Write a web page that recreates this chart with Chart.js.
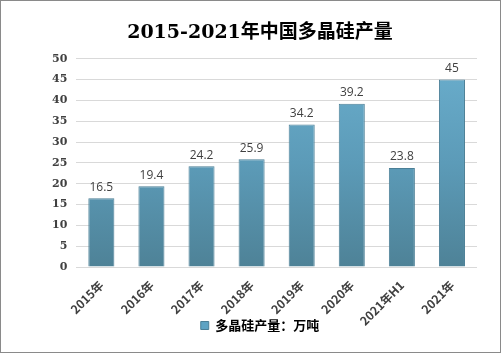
<!DOCTYPE html>
<html>
<head>
<meta charset="utf-8">
<script src="https://cdn.jsdelivr.net/npm/chart.js@4"></script>
<style>
  html, body { margin: 0; padding: 0; background: #fff; }
  #wrap { width: 501px; height: 354px; }
</style>
</head>
<body>
<div id="wrap"><canvas id="chart"></canvas></div>
<script>
const years = ["2015年", "2016年", "2017年", "2018年", "2019年", "2020年", "2021年H1", "2021年"]
const output = [16.5, 19.4, 24.2, 25.9, 34.2, 39.2, 23.8, 45]
const yTicks = [0, 5, 10, 15, 20, 25, 30, 35, 40, 45, 50]

const barFill = (context) => {
  const chart = context.chart
  const area = chart.chartArea
  if (!area) return "#5c9fbd"
  const g = chart.ctx.createLinearGradient(0, area.top, 0, area.bottom)
  g.addColorStop(0, "#6aaecd")
  g.addColorStop(0.5, "#5c9bb8")
  g.addColorStop(1, "#4e8297")
  return g
}

// white background + outer frame; also let the x labels run past the
// (squeezed) axis box so they can sit beside the legend like the original
const framePlugin = {
  id: "frame",
  beforeDraw(chart) {
    chart.scales.x.bottom = chart.height
    const ctx = chart.ctx
    ctx.save()
    ctx.fillStyle = "#fff"
    ctx.fillRect(0, 0, chart.width, chart.height)
    ctx.strokeStyle = "#8a8a8a"
    ctx.lineWidth = 1
    ctx.strokeRect(0.5, 0.5, chart.width - 1, chart.height - 2)
    ctx.restore()
  }
}

// value labels over bars
const valueLabels = {
  id: "valueLabels",
  afterDatasetsDraw(chart) {
    const ctx = chart.ctx
    const meta = chart.getDatasetMeta(0)
    ctx.save()
    ctx.font = "12px 'Open Sans'"
    ctx.fillStyle = "#404040"
    ctx.textAlign = "center"
    ctx.textBaseline = "bottom"
    meta.data.forEach((bar, i) => {
      ctx.fillText(String(output[i]), bar.x, bar.y - 5)
    })
    ctx.restore()
  }
}

new Chart(document.getElementById("chart"), {
  type: "bar",
  data: {
    labels: years,
    datasets: [{
      label: "多晶硅产量：万吨",
      data: output,
      backgroundColor: barFill,
      borderColor: "#4b7f96",
      borderWidth: 1,
      categoryPercentage: 1,
      barPercentage: 0.52
    }]
  },
  options: {
    responsive: true,
    maintainAspectRatio: false,
    animation: false,
    layout: { padding: { left: 43, right: 24, top: 4, bottom: 12 } },
    plugins: {
      title: {
        display: true,
        text: "2015-2021年中国多晶硅产量",
        color: "#000",
        font: { family: "'DejaVu Serif', 'Noto Sans CJK SC'", size: 19, weight: "bold" },
        padding: { top: 18, bottom: 14 }
      },
      legend: {
        position: "bottom",
        labels: {
          boxWidth: 8,
          boxHeight: 8,
          color: "#404040",
          font: { family: "'Noto Sans CJK SC'", size: 13, weight: "bold" },
          padding: 4,
          generateLabels: (chart) => [{
            text: "多晶硅产量：万吨",
            fillStyle: "#5ea3c3",
            strokeStyle: "#4b7f96",
            lineWidth: 1,
            datasetIndex: 0
          }]
        }
      },
      tooltip: { enabled: false }
    },
    scales: {
      x: {
        grid: { display: false },
        border: { display: false },
        afterFit: (axis) => { axis.height = 48 },
        ticks: {
          minRotation: 45,
          maxRotation: 45,
          color: "#404040",
          padding: 3,
          font: { family: "'Noto Sans CJK SC'", size: 12, weight: "bold" }
        }
      },
      y: {
        min: 0,
        max: 50,
        afterBuildTicks: (axis) => { axis.ticks = yTicks.map(v => ({ value: v })) },
        grid: { color: "#d9d9d9", drawTicks: false },
        border: { display: false },
        ticks: {
          color: "#404040",
          padding: 9,
          font: { family: "'DejaVu Serif'", size: 11, weight: "bold" }
        }
      }
    }
  },
  plugins: [framePlugin, valueLabels]
})
</script>
</body>
</html>
